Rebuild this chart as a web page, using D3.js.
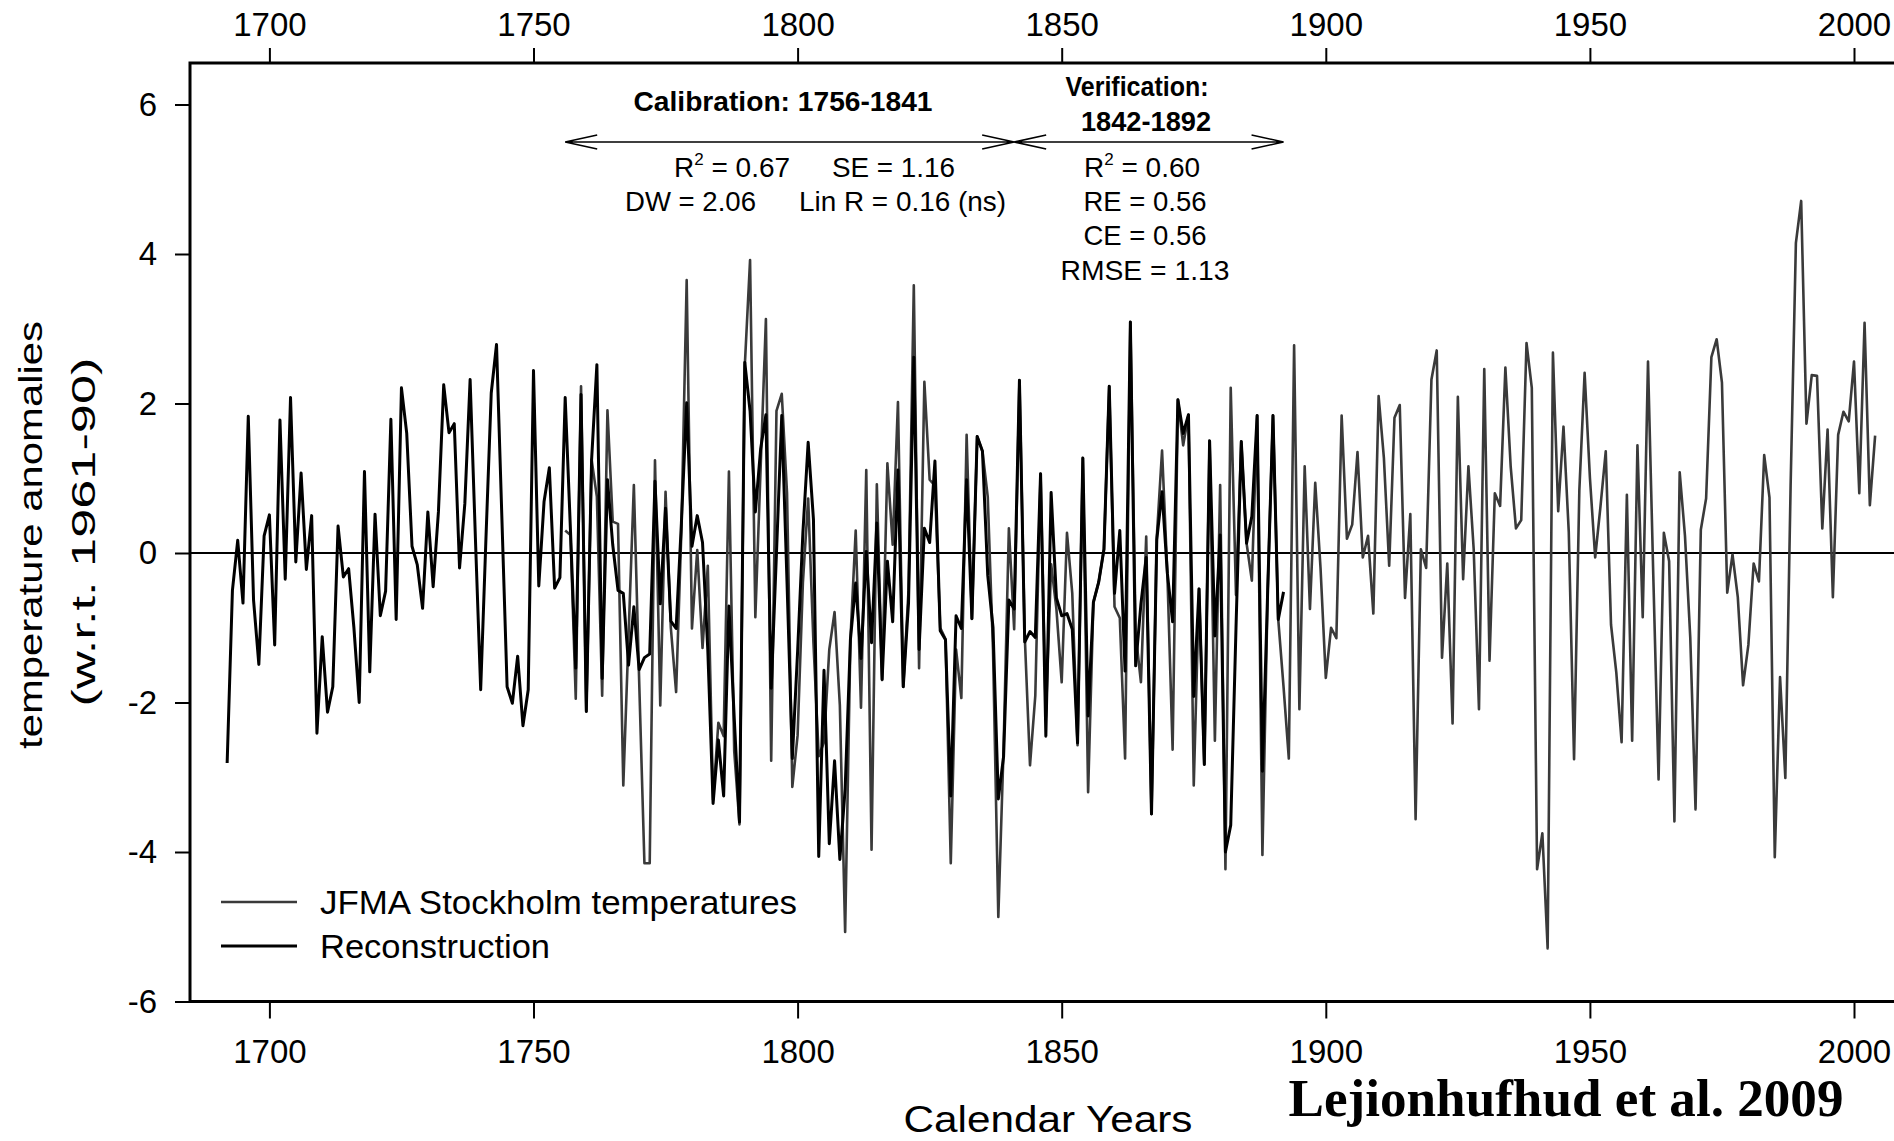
<!DOCTYPE html>
<html>
<head>
<meta charset="utf-8">
<script src="https://cdn.jsdelivr.net/npm/d3@7"></script>
<style>
    html, body { margin: 0; padding: 0; background: #fff; }
    svg { display: block; font-family: "Liberation Sans", Arial, sans-serif; }
</style>
</head>
<body>
<div id="chart"></div>
<script>
(function() {
    'use strict';

    var xTicks = [1700, 1750, 1800, 1850, 1900, 1950, 2000];
    var yTicks = [-6, -4, -2, 0, 2, 4, 6];

    // reconstruction, one value per year from reconStart
    var reconStart = 1692;
    var reconValues = [
        -2.81, -0.50, 0.17, -0.67, 1.83, -0.63, -1.49, 0.23, 0.51, -1.23,
        1.78, -0.35, 2.08, -0.12, 1.07, -0.22, 0.50, -2.41, -1.12, -2.13,
        -1.79, 0.36, -0.32, -0.21, -1.00, -2.00, 1.09, -1.59, 0.52, -0.84,
        -0.51, 1.79, -0.89, 2.21, 1.60, 0.09, -0.16, -0.74, 0.55, -0.45,
        0.55, 2.25, 1.61, 1.73, -0.20, 0.66, 2.32, 0.20, -1.83, 0.20,
        2.14, 2.79, 0.50, -1.79, -2.01, -1.38, -2.31, -1.83, 2.44, -0.44,
        0.69, 1.14, -0.47, -0.33, 2.08, 0.30, -1.54, 2.12, -2.12, 1.25,
        2.52, -1.68, 0.98, 0.11, -0.50, -0.54, -1.50, -0.72, -1.56, -1.40,
        -1.35, 0.96, -0.68, 0.60, -0.91, -1.01, 0.40, 2.01, 0.09, 0.50,
        0.14, -1.30, -3.35, -2.50, -3.25, -0.71, -2.20, -3.60, 2.55, 1.90,
        0.55, 1.39, 1.85, -1.81, 0.00, 1.84, -0.40, -2.75, -1.32, 0.27,
        1.48, 0.45, -4.06, -1.57, -3.89, -2.78, -4.10, -3.16, -1.16, -0.40,
        -1.41, 0.02, -1.20, 0.40, -1.69, -0.11, -0.92, 1.11, -1.79, -0.67,
        2.62, -1.29, 0.33, 0.14, 1.23, -1.04, -1.16, -3.25, -0.84, -1.01,
        0.98, -0.88, 1.56, 1.36, -0.30, -1.00, -3.29, -2.72, -0.63, -0.75,
        2.31, -1.19, -1.05, -1.13, 1.06, -2.45, 0.81, -0.60, -0.84, -0.81,
        -1.02, -2.54, 1.27, -2.18, -0.66, -0.39, 0.05, 2.23, -0.54, 0.30,
        -1.58, 3.09, -1.51, -0.68, -0.06, -3.49, 0.18, 0.82, -0.27, -0.92,
        2.05, 1.60, 1.85, -1.92, -0.48, -2.83, 1.50, -1.11, 0.24, -4.00,
        -3.64, -1.00, 1.49, 0.13, 0.49, 1.84, -2.92, -0.50, 1.84, -0.89,
        -0.52
    ];

    // JFMA Stockholm temperatures, one value per year from stockholmStart
    var stockholmStart = 1756;
    var stockholmValues = [
        0.30, 0.24, -1.95, 2.23, -2.12, 1.25, 0.75, -1.91, 1.91, 0.42,
        0.39, -3.11, -1.10, 0.91, -1.70, -4.15, -4.15, 1.24, -2.04, 0.82,
        -1.00, -1.86, 0.30, 3.65, -1.01, 0.04, -1.27, -0.17, -3.30, -2.27,
        -2.45, 1.09, -2.65, -3.63, 2.50, 3.92, -0.86, 1.14, 3.13, -2.78,
        1.90, 2.13, 0.80, -3.13, -2.44, -0.40, 0.73, -1.20, -2.72, -2.53,
        -1.29, -0.79, -2.04, -5.07, -1.16, 0.30, -2.07, 1.11, -3.97, 0.92,
        -1.70, 1.20, 0.11, 2.02, -1.79, -0.50, 3.58, -1.54, 2.29, 0.98,
        0.90, -1.00, -1.15, -4.15, -1.29, -1.94, 1.58, -0.88, 1.56, 1.36,
        0.75, -1.30, -4.87, -2.60, 0.33, -1.02, 2.31, -1.10, -2.84, -1.91,
        1.06, -2.20, -0.15, -0.75, -1.73, 0.27, -0.54, -2.57, 1.27, -3.20,
        -0.66, -0.39, 0.05, 2.23, -0.72, -0.87, -2.75, 3.09, -1.08, -1.73,
        0.22, -3.49, 0.21, 1.37, -0.27, -2.63, 2.05, 1.44, 1.85, -3.11,
        -0.48, -2.83, 1.50, -2.51, 0.91, -4.23, 2.21, -0.56, 1.49, 0.13,
        -0.37, 1.84, -4.04, -0.50, 1.84, -0.89, -1.79, -2.75, 2.78, -2.09,
        1.16, -0.75, 0.94, -0.20, -1.67, -1.00, -1.14, 1.84, 0.19, 0.38,
        1.35, -0.06, 0.23, -0.81, 2.10, 1.27, -0.17, 1.81, 1.98, -0.60,
        0.52, -3.56, 0.05, -0.20, 2.32, 2.71, -1.40, -0.14, -2.28, 2.09,
        -0.35, 1.16, 0.05, -2.09, 2.46, -1.44, 0.80, 0.63, 2.48, 1.16,
        0.33, 0.44, 2.81, 2.21, -4.23, -3.75, -5.29, 2.68, 0.56, 1.69,
        0.28, -2.76, 0.84, 2.41, 1.01, -0.06, 0.62, 1.36, -0.96, -1.60,
        -2.53, 0.78, -2.51, 1.44, -0.86, 2.56, -0.30, -3.03, 0.27, -0.11,
        -3.59, 1.08, 0.23, -1.13, -3.43, 0.31, 0.73, 2.62, 2.86, 2.28,
        -0.53, -0.02, -0.59, -1.77, -1.23, -0.14, -0.38, 1.31, 0.74, -4.07,
        -1.66, -3.01, 0.90, 4.15, 4.71, 1.73, 2.38, 2.37, 0.33, 1.65,
        -0.59, 1.58, 1.89, 1.76, 2.56, 0.80, 3.08, 0.64, 1.57
    ];

    var calibrationYears = [1756, 1841];
    var verificationYears = [1841, 1892];
    var legendLabels = ["JFMA Stockholm temperatures", "Reconstruction"];

    var width = 1894, height = 1141;
    var frame = {left: 190, top: 63, bottom: 1001.5, right: 1894};
    var grey = "#3a3a3a";

    var x = d3.scaleLinear().domain([1700, 2000]).range([269.4, 1854]);
    var y = d3.scaleLinear().domain([-6, 6]).range([1001.5, 104.5]);

    var svg = d3.select("#chart").append("svg")
        .attr("width", width)
        .attr("height", height);

    function styleAxis(g) {
        g.select(".domain").remove();
        g.selectAll("line").attr("stroke", "#000").attr("stroke-width", 2);
        g.selectAll("text")
            .attr("fill", "#000")
            .style("font-family", "'Liberation Sans', Arial, sans-serif")
            .style("font-size", "33px");
    }

    svg.append("g")
        .attr("transform", "translate(0," + frame.bottom + ")")
        .call(d3.axisBottom(x).tickValues(xTicks).tickSize(17).tickPadding(21).tickFormat(d3.format("d")))
        .call(styleAxis);

    svg.append("g")
        .attr("transform", "translate(0," + frame.top + ")")
        .call(d3.axisTop(x).tickValues(xTicks).tickSize(15).tickPadding(12).tickFormat(d3.format("d")))
        .call(styleAxis);

    svg.append("g")
        .attr("transform", "translate(" + frame.left + ",0)")
        .call(d3.axisLeft(y).tickValues(yTicks).tickSize(15).tickPadding(18).tickFormat(d => String(d)))
        .call(styleAxis);

    // frame (open on the right, cut by the image edge)
    svg.append("path")
        .attr("d", "M" + frame.right + "," + frame.top + "H" + frame.left + "V" + frame.bottom + "H" + frame.right)
        .attr("fill", "none")
        .attr("stroke", "#000")
        .attr("stroke-width", 3);

    svg.append("line")
        .attr("x1", frame.left).attr("x2", frame.right)
        .attr("y1", y(0)).attr("y2", y(0))
        .attr("stroke", "#000")
        .attr("stroke-width", 2);

    var stockLine = d3.line()
        .x((d, i) => x(stockholmStart + i))
        .y(d => y(d));

    var reconLine = d3.line()
        .x((d, i) => x(reconStart + i))
        .y(d => y(d));

    svg.append("path")
        .datum(stockholmValues)
        .attr("d", stockLine)
        .attr("fill", "none")
        .attr("stroke", grey)
        .attr("stroke-width", 2.6)
        .attr("stroke-linejoin", "round");

    svg.append("path")
        .datum(reconValues)
        .attr("d", reconLine)
        .attr("fill", "none")
        .attr("stroke", "#000")
        .attr("stroke-width", 3)
        .attr("stroke-linejoin", "round");

    // calibration / verification arrows
    var arrowY = 142, headLen = 32, headHalf = 7;
    function arrow(years) {
        var x0 = x(years[0]), x1 = x(years[1]);
        return "M" + x0 + "," + arrowY + "H" + x1 +
            "M" + (x0 + headLen) + "," + (arrowY - headHalf) + "L" + x0 + "," + arrowY + "L" + (x0 + headLen) + "," + (arrowY + headHalf) +
            "M" + (x1 - headLen) + "," + (arrowY - headHalf) + "L" + x1 + "," + arrowY + "L" + (x1 - headLen) + "," + (arrowY + headHalf);
    }
    [calibrationYears, verificationYears].forEach(function(p) {
        svg.append("path")
            .attr("d", arrow(p))
            .attr("fill", "none")
            .attr("stroke", "#000")
            .attr("stroke-width", 1.6);
    });

    function label(px, py, str, size, anchor, len, weight) {
        var t = svg.append("text")
            .attr("x", px)
            .attr("y", py)
            .attr("text-anchor", anchor || "start")
            .style("font-size", size + "px")
            .style("font-weight", weight || "normal")
            .text(str);
        if (len) t.attr("textLength", len).attr("lengthAdjust", "spacingAndGlyphs");
        return t;
    }

    function rSquared(px, py, value) {
        var t = svg.append("text")
            .attr("x", px)
            .attr("y", py)
            .style("font-size", "28px");
        t.append("tspan").text("R");
        t.append("tspan").attr("dy", -12).style("font-size", "17px").text("2");
        t.append("tspan").attr("dy", 12).text(" = " + value);
    }

    label(783, 111, "Calibration: 1756-1841", 27, "middle", 299, "bold");
    label(1137, 96, "Verification:", 27, "middle", 143, "bold");
    label(1146, 131, "1842-1892", 27, "middle", 130, "bold");

    rSquared(674, 177, "0.67");
    label(832, 177, "SE = 1.16", 28, "start", 123);
    label(625, 211, "DW = 2.06", 28, "start", 131);
    label(799, 211, "Lin R = 0.16 (ns)", 28, "start", 207);

    rSquared(1084, 177, "0.60");
    label(1145, 211, "RE = 0.56", 28, "middle", 123);
    label(1145, 245, "CE = 0.56", 28, "middle", 123);
    label(1145, 280, "RMSE = 1.13", 28, "middle", 169);

    // legend
    var legend = svg.selectAll(".legend")
        .data(legendLabels)
        .enter().append("g")
        .attr("class", "legend")
        .attr("transform", (d, i) => "translate(0," + (902 + i * 44) + ")");

    legend.append("line")
        .attr("x1", 221).attr("x2", 297)
        .attr("stroke", (d, i) => i === 0 ? grey : "#000")
        .attr("stroke-width", (d, i) => i === 0 ? 2.6 : 3);

    legend.append("text")
        .attr("x", 320)
        .attr("y", 12)
        .attr("textLength", (d, i) => i === 0 ? 477 : 230)
        .attr("lengthAdjust", "spacingAndGlyphs")
        .style("font-size", "34px")
        .text(d => d);

    // axis titles
    label(0, 0, "temperature anomalies", 34, "middle", 428)
        .attr("transform", "translate(42,535) rotate(-90)");
    label(0, 0, "(w.r.t. 1961-90)", 34, "middle", 349)
        .attr("transform", "translate(95,532) rotate(-90)");

    label(1048, 1132, "Calendar Years", 37, "middle", 289);

    label(1566, 1116, "Lejionhufhud et al. 2009", 53, "middle", 555, "bold")
        .style("font-family", "'Liberation Serif', 'Times New Roman', serif");
})();
</script>
</body>
</html>
